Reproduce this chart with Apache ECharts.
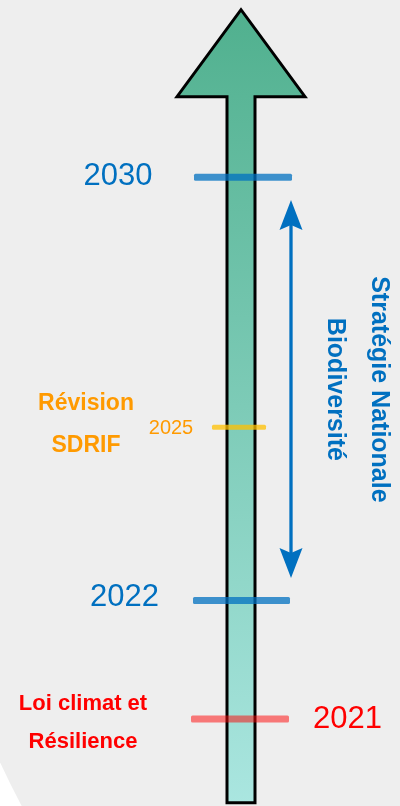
<!DOCTYPE html>
<html>
<head>
<meta charset="utf-8">
<style>
  html, body { margin: 0; padding: 0; background: #fff; }
  #main { width: 400px; height: 806px; }
</style>
<script src="https://cdn.jsdelivr.net/npm/echarts@6/dist/echarts.min.js"></script>
</head>
<body>
<div id="main"></div>
<script>
// position on the timeline, 0 = foot of the arrow, 100 = top of the picture
const years = ['2030', '2025', '2022', '2021'];
const levels = [78.0, 47.0, 25.5, 10.8];
const events = ['', 'Révision\nSDRIF', '', 'Loi climat et\nRésilience'];
const arrowSpan = [0.4, 98.8];
const strategySpan = [75.2, 28.3];
const strategyLabel = 'Stratégie Nationale\nBiodiversité';

const FONT = '"Liberation Sans", Arial, sans-serif';
const BLUE = '#0070c0', RED = '#ff0000', ORANGE = '#ff9a00';
const SHAFT_X = 60.25; // shaft centre on the hidden x axis
const SPAN_X = 72.75;  // the double arrow

// look of each mark, same order as years
const markLook = [
  { bar: 'rgba(0,112,192,0.75)', len: 98, thick: 7, dx: 2, color: BLUE, size: 31, lx: -123, ly: -1 },
  { bar: 'rgba(255,192,0,0.75)', len: 54, thick: 5, dx: -2, color: ORANGE, size: 20, lx: -70, ly: 1,
    ex: -155, ey: -3, eh: 42, es: 23 },
  { bar: 'rgba(0,112,192,0.75)', len: 97, thick: 7, dx: 0.5, color: BLUE, size: 31, lx: -116.5, ly: -3 },
  { bar: 'rgba(255,0,0,0.5)', len: 98, thick: 7, dx: -1, color: RED, size: 31, lx: 106.5, ly: 0.5,
    ex: -158, ey: 4, eh: 38, es: 22 }
];

const chart = echarts.init(document.getElementById('main'));

chart.setOption({
  animation: false,
  backgroundColor: '#ffffff',
  grid: { left: 0, right: 0, top: 0, bottom: 0 },
  xAxis: { type: 'value', min: 0, max: 100, show: false },
  yAxis: { type: 'value', min: 0, max: 100, show: false },
  graphic: [
    {
      type: 'circle',
      z: -10,
      shape: { cx: 907, cy: 341, r: 1000 },
      style: { fill: '#eeeeee' }
    }
  ],
  series: [
    {
      // big arrow
      type: 'custom',
      z: 2,
      data: [[SHAFT_X, arrowSpan[0], arrowSpan[1]]],
      renderItem: function (params, api) {
        const foot = api.coord([api.value(0), api.value(1)]);
        const tip = api.coord([api.value(0), api.value(2)]);
        const cx = foot[0];
        const sw = 14, hw = 64, hh = 87;
        return {
          type: 'polygon',
          shape: {
            points: [
              [cx - sw, foot[1]], [cx - sw, tip[1] + hh], [cx - hw, tip[1] + hh],
              [cx, tip[1]],
              [cx + hw, tip[1] + hh], [cx + sw, tip[1] + hh], [cx + sw, foot[1]]
            ]
          },
          style: {
            fill: new echarts.graphic.LinearGradient(0, 0, 0, 1, [
              { offset: 0, color: '#50b08e' },
              { offset: 1, color: '#aae6e0' }
            ]),
            stroke: '#000',
            lineWidth: 3,
            lineJoin: 'miter'
          }
        };
      }
    },
    {
      // year marks and their labels
      type: 'custom',
      z: 3,
      data: years.map((y, i) => [SHAFT_X, levels[i]]),
      renderItem: function (params, api) {
        const i = params.dataIndex;
        const k = markLook[i];
        const p = api.coord([api.value(0), api.value(1)]);
        const children = [
          {
            type: 'rect',
            shape: { x: p[0] + k.dx - k.len / 2, y: p[1] - k.thick / 2, width: k.len, height: k.thick, r: 1.5 },
            style: { fill: k.bar }
          },
          {
            type: 'text',
            x: p[0] + k.lx,
            y: p[1] + k.ly,
            style: {
              text: years[i], fill: k.color, fontSize: k.size, fontFamily: FONT,
              align: 'center', verticalAlign: 'middle'
            }
          }
        ];
        if (events[i]) {
          children.push({
            type: 'text',
            x: p[0] + k.ex,
            y: p[1] + k.ey,
            style: {
              text: events[i], fill: k.color, fontSize: k.es, fontWeight: 'bold', fontFamily: FONT,
              lineHeight: k.eh, align: 'center', verticalAlign: 'middle'
            }
          });
        }
        return { type: 'group', children: children };
      }
    },
    {
      // Stratégie Nationale Biodiversité double arrow
      type: 'custom',
      z: 4,
      data: [[SPAN_X, strategySpan[0], strategySpan[1]]],
      renderItem: function (params, api) {
        const a = api.coord([api.value(0), api.value(1)]);
        const b = api.coord([api.value(0), api.value(2)]);
        const x = a[0], hw = 11.5, hl = 30, notch = 5;
        return {
          type: 'group',
          children: [
            {
              type: 'line',
              shape: { x1: x, y1: a[1] + hl - notch, x2: x, y2: b[1] - hl + notch },
              style: { stroke: BLUE, lineWidth: 3.3 }
            },
            {
              type: 'polygon',
              shape: { points: [[x, a[1]], [x + hw, a[1] + hl], [x, a[1] + hl - notch], [x - hw, a[1] + hl]] },
              style: { fill: BLUE }
            },
            {
              type: 'polygon',
              shape: { points: [[x, b[1]], [x + hw, b[1] - hl], [x, b[1] - hl + notch], [x - hw, b[1] - hl]] },
              style: { fill: BLUE }
            },
            {
              type: 'text',
              x: x + 65.5,
              y: (a[1] + b[1]) / 2 + 0.5,
              rotation: -Math.PI / 2,
              style: {
                text: strategyLabel, fill: BLUE, fontSize: 25, fontWeight: 'bold', fontFamily: FONT,
                lineHeight: 44, align: 'center', verticalAlign: 'middle'
              }
            }
          ]
        };
      }
    }
  ]
});
</script>
</body>
</html>
